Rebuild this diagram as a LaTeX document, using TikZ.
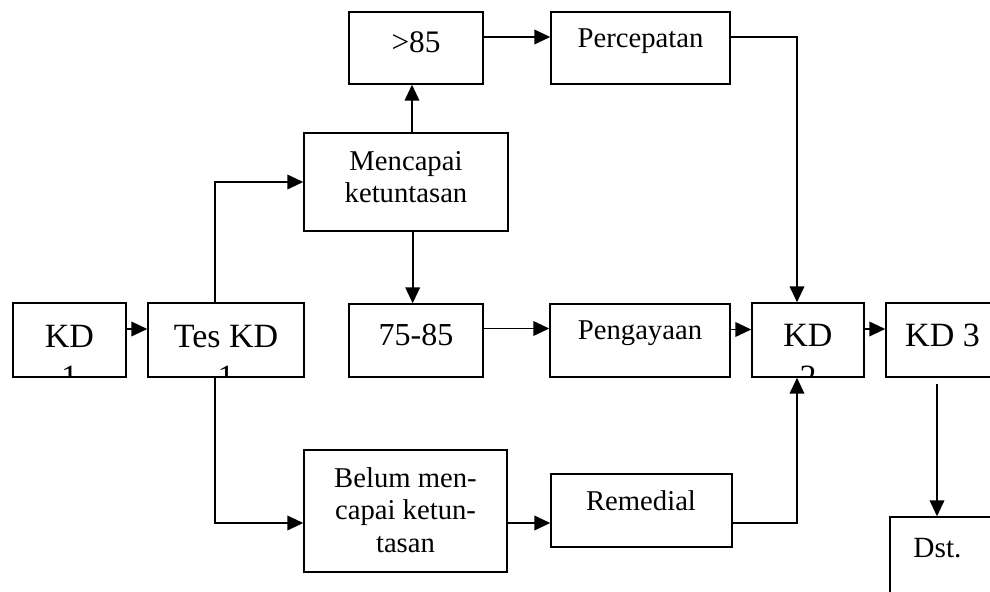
\documentclass[tikz,border=0pt]{standalone}
\usepackage{fontspec}
\setmainfont{Liberation Serif}
\usetikzlibrary{arrows.meta,fit,calc}
\newcommand\palf[1]{\fontsize{#1}{#1}\selectfont}
\newcommand\tmsf[1]{\fontsize{#1}{#1}\selectfont}
\begin{document}
\begin{tikzpicture}[x=0.75pt,y=-0.75pt,
  bx/.style={draw, line width=1.1pt, inner sep=0pt},
  lbl/.style={inner sep=0pt, anchor=base},
  arr/.style={line width=1.3pt, -{Triangle[length=12pt,width=11pt]}}]
\useasboundingbox (0,0) rectangle (990,592);
% boxes
\node[bx, fit={(13,303) (126,377)}] (kd1) {};
\node[bx, fit={(148,303) (304,377)}] (tes) {};
\node[bx, fit={(304,133) (508,231)}] (menc) {};
\node[bx, fit={(349,12) (483,84)}] (g85) {};
\node[bx, fit={(551,12) (730,84)}] (perc) {};
\node[bx, fit={(349,304) (483,377)}] (r7585) {};
\node[bx, fit={(550,304) (730,377)}] (peng) {};
\node[bx, fit={(752,303) (864,377)}] (kd2) {};
\node[bx, fit={(886,303) (1000,377)}] (kd3) {};
\node[bx, fit={(304,450) (507,572)}] (belum) {};
\node[bx, fit={(551,474) (732,547)}] (rem) {};
\node[bx, fit={(890,517) (1000,610)}] (dst) {};
% texts
\node[lbl] (t1) at (69.5,347) {\tmsf{25.5pt}KD};
\node[lbl] (t2) at (226,347) {\tmsf{25.5pt}Tes KD};
\node[lbl] (t8) at (808,346) {\tmsf{25.5pt}KD};
\begin{scope}
  \clip (kd1.south west) rectangle (kd1.north east);
  \node[lbl] (t1b) at (69.5,388) {\tmsf{25.5pt}1};
\end{scope}
\begin{scope}
  \clip (tes.south west) rectangle (tes.north east);
  \node[lbl] (t2b) at (226,388) {\tmsf{25.5pt}1};
\end{scope}
\begin{scope}
  \clip (kd2.south west) rectangle (kd2.north east);
  \node[lbl] (t8b) at (808,388) {\tmsf{25.5pt}2};
\end{scope}
\node[lbl] (t9) at (942.5,346) {\tmsf{25.5pt}KD 3};
\node[lbl] (t12) at (937.5,557) {\tmsf{22pt}Dst.};
\node[lbl] (t3) at (416,53) {\palf{23.5pt}>85};
\node[lbl] (t4) at (640.5,48) {\palf{21.5pt}Percepatan};
\node[lbl] (t5a) at (406,171) {\palf{21.5pt}Mencapai};
\node[lbl] (t5b) at (406,203) {\palf{21.5pt}ketuntasan};
\node[lbl] (t6) at (416,345) {\palf{24pt}75-85};
\node[lbl] (t7) at (640,339) {\palf{21.5pt}Pengayaan};
\node[lbl] (t10a) at (405.5,487) {\palf{21.5pt}Belum men-};
\node[lbl] (t10b) at (405.5,519) {\palf{21.5pt}capai ketun-};
\node[lbl] (t10c) at (405.5,552) {\palf{21.5pt}tasan};
\node[lbl] (t11) at (641,510) {\palf{21.5pt}Remedial};
% connectors
\draw[arr] ([yshift=8.25pt]kd1.east) -- ([yshift=8.25pt]tes.west);
\draw[arr] ([xshift=-8.25pt]tes.north) |- (menc.west);
\draw[arr] ([xshift=-8.25pt]tes.south) |- ([yshift=-9pt]belum.west);
\draw[arr] ([xshift=4.5pt]menc.north) -- ([xshift=4.5pt]menc.north |- g85.south);
\draw[arr] ([xshift=5pt]menc.south) -- ([xshift=5pt]menc.south |- r7585.north);
\draw[arr] ([yshift=8.25pt]g85.east) -- ([yshift=8.25pt]g85.east -| perc.west);
\draw[arr] ([yshift=8.25pt]perc.east) -| ([xshift=-8.25pt]kd2.north);
\draw[arr] ([yshift=9pt]r7585.east) -- ([yshift=9pt]r7585.east -| peng.west);
\draw[arr] ([yshift=8.25pt]peng.east) -- ([yshift=8.25pt]peng.east -| kd2.west);
\draw[arr] ([yshift=-9pt]belum.east) -- ([yshift=-9pt]belum.east -| rem.west);
\draw[arr] ([yshift=-9.4pt]rem.east) -| ([xshift=-8.25pt]kd2.south);
\draw[arr] ([yshift=8.25pt]kd2.east) -- ([yshift=8.25pt]kd2.east -| kd3.west);
\draw[arr] ([xshift=-4.5pt,yshift=-4.5pt]kd3.south) -- ([xshift=-4.5pt]kd3.south |- dst.north);
\end{tikzpicture}
\end{document}
